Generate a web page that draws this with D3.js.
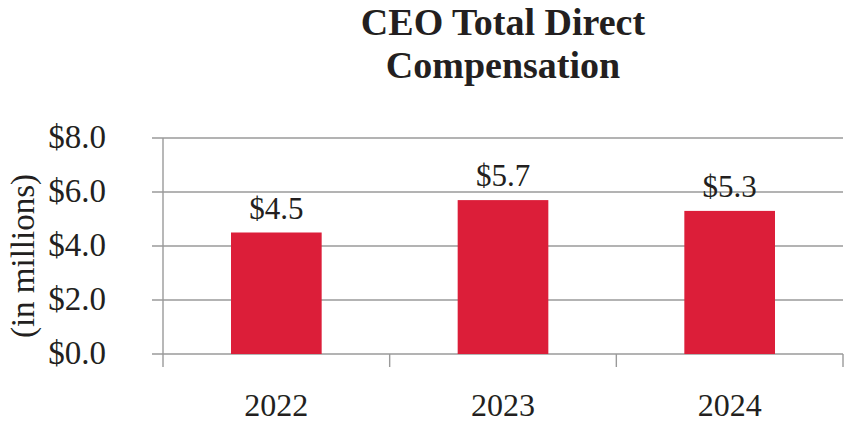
<!DOCTYPE html>
<html>
<head>
<meta charset="utf-8">
<script src="https://cdn.jsdelivr.net/npm/d3@7"></script>
<style>
  body { margin: 0; background: #fff; }
  text { font-family: "Liberation Serif", "Times New Roman", serif; fill: #231f20; }
</style>
</head>
<body>
<svg width="845" height="427"></svg>
<script>
var years = ["2022", "2023", "2024"];
var comp = [4.5, 5.7, 5.3];
var yTicks = [0, 2, 4, 6, 8];
var titleLines = ["CEO Total Direct", "Compensation"];

var plotL = 163, plotR = 843, plotT = 138, plotB = 354;

var svg = d3.select("svg");

var x = d3.scaleBand()
    .domain(years)
    .range([plotL, plotR])
    .paddingInner(0.6)
    .paddingOuter(0.3);

var y = d3.scaleLinear()
    .domain([0, 8])
    .range([plotB, plotT]);

// title
svg.selectAll(".title")
    .data(titleLines)
    .enter().append("text")
    .attr("class", "title")
    .attr("x", 503)
    .attr("y", function(d, i) { return 35 + i * 43; })
    .attr("text-anchor", "middle")
    .style("font-weight", "bold")
    .style("font-size", "38px")
    .text(function(d) { return d; });

// gridlines
svg.selectAll(".grid")
    .data(yTicks)
    .enter().append("line")
    .attr("class", "grid")
    .attr("x1", plotL - 11)
    .attr("x2", plotR)
    .attr("y1", function(d) { return y(d); })
    .attr("y2", function(d) { return y(d); })
    .attr("stroke", "#9a9a9a")
    .attr("stroke-width", 1.4);

// y axis line
svg.append("line")
    .attr("x1", plotL).attr("x2", plotL)
    .attr("y1", plotT).attr("y2", plotB + 13)
    .attr("stroke", "#9a9a9a")
    .attr("stroke-width", 1.4);

// category separators
var seps = years.map(function(d) { return x(d) + x.bandwidth() / 2 + x.step() / 2; });
svg.selectAll(".xtick")
    .data(seps)
    .enter().append("line")
    .attr("class", "xtick")
    .attr("x1", function(d) { return d; })
    .attr("x2", function(d) { return d; })
    .attr("y1", plotB)
    .attr("y2", plotB + 13)
    .attr("stroke", "#9a9a9a")
    .attr("stroke-width", 1.4);

// y tick labels
svg.selectAll(".ylab")
    .data(yTicks)
    .enter().append("text")
    .attr("class", "ylab")
    .attr("x", 106)
    .attr("y", function(d) { return y(d) + 10; })
    .attr("text-anchor", "end")
    .style("font-size", "33px")
    .text(function(d) { return "$" + d.toFixed(1); });

svg.append("text")
    .attr("transform", "translate(34,256) rotate(-90)")
    .attr("text-anchor", "middle")
    .style("font-size", "33px")
    .text("(in millions)");

// bars
svg.selectAll(".bar")
    .data(comp)
    .enter().append("rect")
    .attr("class", "bar")
    .attr("x", function(d, i) { return x(years[i]); })
    .attr("width", x.bandwidth())
    .attr("y", function(d) { return y(d); })
    .attr("height", function(d) { return y(0) - y(d); })
    .attr("fill", "#dc1e39");

// value labels
svg.selectAll(".val")
    .data(comp)
    .enter().append("text")
    .attr("class", "val")
    .attr("x", function(d, i) { return x(years[i]) + x.bandwidth() / 2; })
    .attr("y", function(d) { return y(d) - 14; })
    .attr("text-anchor", "middle")
    .style("font-size", "31px")
    .text(function(d) { return "$" + d.toFixed(1); });

// year labels
svg.selectAll(".xlab")
    .data(years)
    .enter().append("text")
    .attr("class", "xlab")
    .attr("x", function(d) { return x(d) + x.bandwidth() / 2; })
    .attr("y", 416)
    .attr("text-anchor", "middle")
    .style("font-size", "32px")
    .text(function(d) { return d; });
</script>
</body>
</html>
